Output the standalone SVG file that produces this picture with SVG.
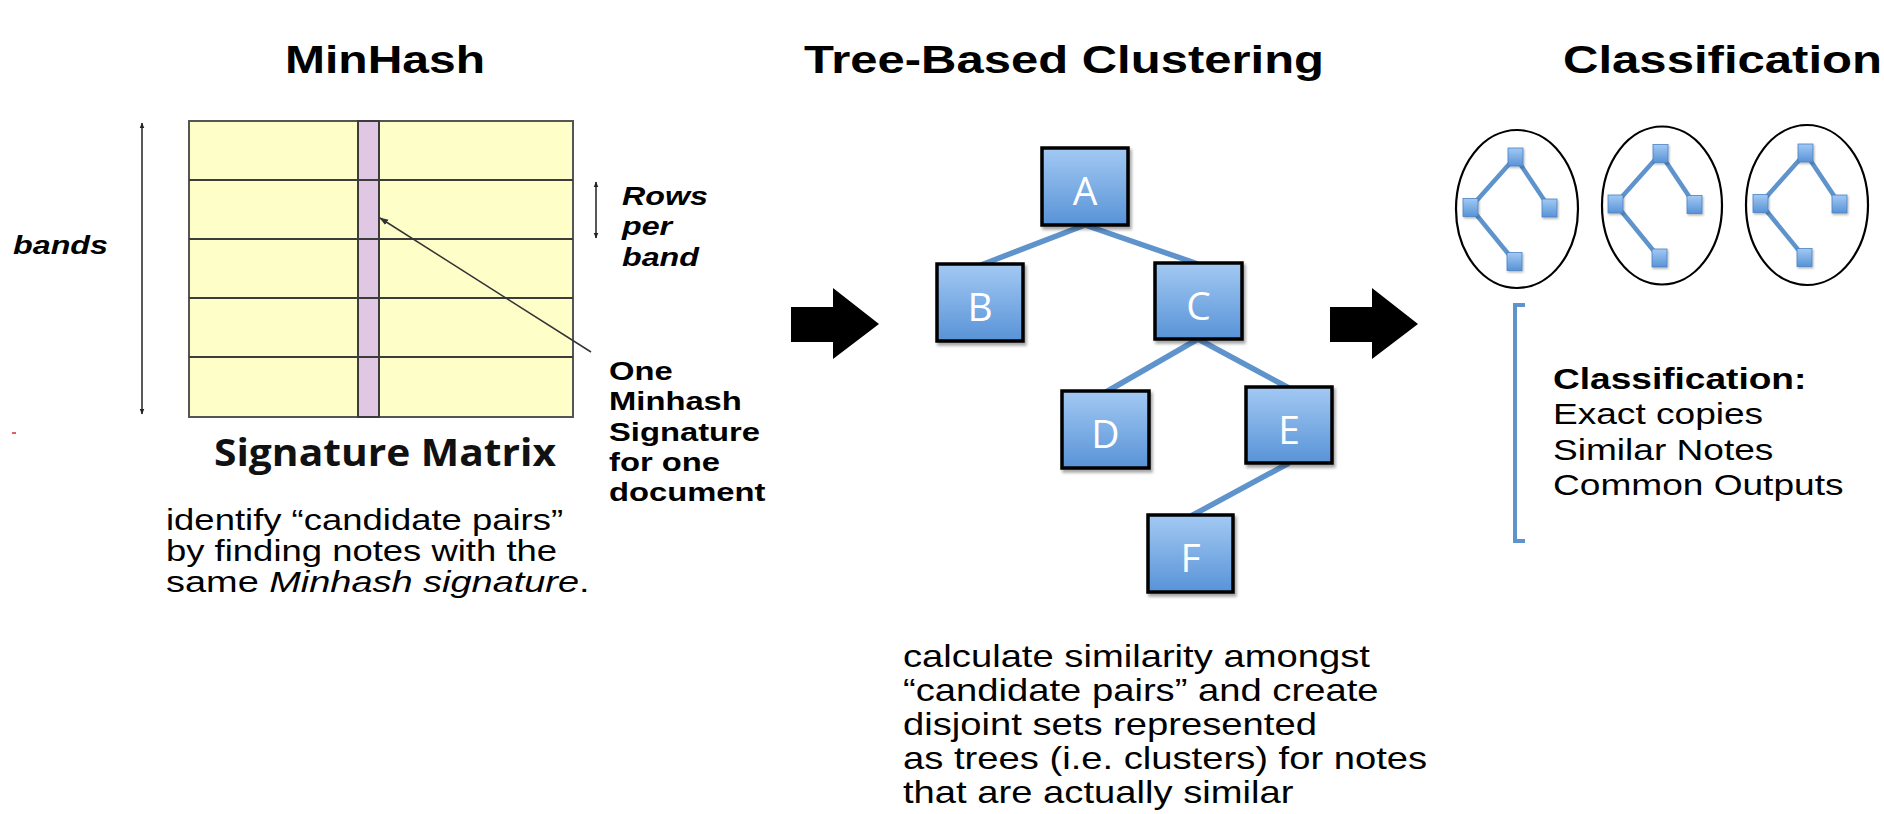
<svg xmlns="http://www.w3.org/2000/svg" width="1884" height="814" viewBox="0 0 1884 814">
  <defs>
    <linearGradient id="boxFill" x1="0" y1="0" x2="0" y2="1">
      <stop offset="0" stop-color="#a3c9f3"/>
      <stop offset="1" stop-color="#5893d7"/>
    </linearGradient>
    <filter id="shadow" x="-20%" y="-20%" width="150%" height="150%">
      <feDropShadow dx="2" dy="3" stdDeviation="1.8" flood-color="#000" flood-opacity="0.35"/>
    </filter>
    <filter id="miniShadow" x="-40%" y="-40%" width="200%" height="200%">
      <feDropShadow dx="1" dy="1.5" stdDeviation="1" flood-color="#000" flood-opacity="0.3"/>
    </filter>
    <marker id="tipSmall" viewBox="0 0 10 10" refX="9" refY="5" markerWidth="6" markerHeight="6" orient="auto-start-reverse" markerUnits="userSpaceOnUse">
      <path d="M0,1 L10,5 L0,9 z" fill="#222"/>
    </marker>
    <marker id="tipPointer" viewBox="0 0 10 10" refX="9" refY="5" markerWidth="9" markerHeight="9" orient="auto" markerUnits="userSpaceOnUse">
      <path d="M0,1.5 L10,5 L0,8.5 z" fill="#333"/>
    </marker>
    <style>
      .title { font-family: "Liberation Sans", Arial, sans-serif; font-weight: bold; font-size: 38.6px; fill: #000; }
      .label { font-family: "Liberation Sans", Arial, sans-serif; font-weight: bold; font-size: 26px; fill: #000; }
      .ital { font-style: italic; }
      .body { font-family: "Liberation Sans", Arial, sans-serif; fill: #000; }
      .caption { font-family: "Open Sans", "Noto Sans", sans-serif; font-weight: bold; font-size: 37px; fill: #111; }
      .node rect { fill: url(#boxFill); stroke: #000; stroke-width: 3.5; filter: url(#shadow); }
      .node text { font-family: "Open Sans", "DejaVu Sans", sans-serif; font-size: 39px; fill: #fff; text-anchor: middle; }
      .edge { stroke: #5f93cc; stroke-width: 5.5; fill: none; }
      .mini line { stroke: #5f93cc; stroke-width: 4.5; }
      .mini rect { fill: url(#boxFill); stroke: #4a83c4; stroke-width: 0.8; filter: url(#miniShadow); }
      .cluster { fill: #fff; stroke: #000; stroke-width: 2.2; }
      .grid { stroke: #3c3c3c; stroke-width: 2; }
      .block { fill: #000; }
    </style>
  </defs>

  <rect width="1884" height="814" fill="#fff"/>

  <!-- column headings -->
  <text class="title" x="285" y="73" textLength="200" lengthAdjust="spacingAndGlyphs">MinHash</text>
  <text class="title" x="804" y="73" textLength="520" lengthAdjust="spacingAndGlyphs">Tree-Based Clustering</text>
  <text class="title" x="1563" y="73" textLength="319" lengthAdjust="spacingAndGlyphs">Classification</text>

  <!-- signature matrix -->
  <g id="signature-matrix">
    <rect x="189" y="121" width="384" height="296" fill="#fefec8" stroke="#555" stroke-width="2"/>
    <rect x="358" y="121" width="21" height="296" fill="#e0c8e4" stroke="#3c3c3c" stroke-width="2"/>
    <line class="grid" x1="189" y1="180" x2="573" y2="180"/>
    <line class="grid" x1="189" y1="239" x2="573" y2="239"/>
    <line class="grid" x1="189" y1="298" x2="573" y2="298"/>
    <line class="grid" x1="189" y1="357" x2="573" y2="357"/>
    <text class="caption" x="214" y="466" textLength="342" lengthAdjust="spacingAndGlyphs">Signature Matrix</text>
  </g>

  <!-- matrix dimension labels -->
  <g id="bands">
    <line x1="142" y1="123" x2="142" y2="414" stroke="#222" stroke-width="1.5" marker-start="url(#tipSmall)" marker-end="url(#tipSmall)"/>
    <text class="label ital" x="13" y="254" textLength="95" lengthAdjust="spacingAndGlyphs">bands</text>
  </g>
  <g id="rows-per-band">
    <line x1="596" y1="182" x2="596" y2="238" stroke="#222" stroke-width="1.5" marker-start="url(#tipSmall)" marker-end="url(#tipSmall)"/>
    <text class="label ital" transform="translate(622,205) scale(1.24,1)">
      <tspan x="0" y="0">Rows</tspan>
      <tspan x="0" y="30.5">per</tspan>
      <tspan x="0" y="61">band</tspan>
    </text>
  </g>
  <g id="one-signature">
    <line x1="591" y1="352" x2="380" y2="218" stroke="#333" stroke-width="1.5" marker-end="url(#tipPointer)"/>
    <text class="label" transform="translate(609,380) scale(1.26,1)">
      <tspan x="0" y="0">One</tspan>
      <tspan x="0" y="30.3">Minhash</tspan>
      <tspan x="0" y="60.6">Signature</tspan>
      <tspan x="0" y="90.9">for one</tspan>
      <tspan x="0" y="121.2">document</tspan>
    </text>
  </g>
  <rect x="12" y="432" width="4" height="2" fill="#e06060"/>

  <g id="minhash-note">
    <text class="body" font-size="29.4" transform="translate(166,530) scale(1.24,1)">
      <tspan x="0" y="0">identify “candidate pairs”</tspan>
      <tspan x="0" y="31">by finding notes with the</tspan>
    </text>
    <text class="body" font-size="29.4" transform="translate(166,592) scale(1.29,1)">same <tspan font-style="italic">Minhash signature</tspan>.</text>
  </g>

  <!-- flow arrows -->
  <polygon id="arrow-1" class="block" points="791,307 833,307 833,288 879,324 833,359 833,342 791,342"/>
  <polygon id="arrow-2" class="block" points="1330,307 1372,307 1372,288 1418,324 1372,359 1372,342 1330,342"/>

  <!-- cluster tree -->
  <g id="tree-edges">
    <line class="edge" x1="1085" y1="225" x2="981" y2="265"/>
    <line class="edge" x1="1085" y1="225" x2="1198" y2="264"/>
    <line class="edge" x1="1198" y1="339" x2="1106" y2="392"/>
    <line class="edge" x1="1198" y1="339" x2="1289" y2="388"/>
    <line class="edge" x1="1289" y1="463" x2="1191" y2="516"/>
  </g>
  <g id="node-A" class="node"><rect x="1042" y="148" width="86" height="77"/><text x="1085" y="205">A</text></g>
  <g id="node-B" class="node"><rect x="937" y="264" width="86" height="77"/><text x="980" y="321">B</text></g>
  <g id="node-C" class="node"><rect x="1155" y="263" width="87" height="76"/><text x="1198.5" y="320">C</text></g>
  <g id="node-D" class="node"><rect x="1062" y="391" width="87" height="77"/><text x="1105.5" y="448">D</text></g>
  <g id="node-E" class="node"><rect x="1246" y="387" width="86" height="76"/><text x="1289" y="444">E</text></g>
  <g id="node-F" class="node"><rect x="1148" y="515" width="85" height="77"/><text x="1190.5" y="572">F</text></g>

  <g id="tree-note">
    <text class="body" font-size="30.8" transform="translate(903,667) scale(1.24,1)">
      <tspan x="0" y="0">calculate similarity amongst</tspan>
      <tspan x="0" y="34">“candidate pairs” and create</tspan>
      <tspan x="0" y="68">disjoint sets represented</tspan>
      <tspan x="0" y="102">as trees (i.e. clusters) for notes</tspan>
      <tspan x="0" y="136">that are actually similar</tspan>
    </text>
  </g>

  <!-- classified clusters -->
  <g id="cluster-1">
    <ellipse class="cluster" cx="1517" cy="209" rx="61" ry="79"/>
    <g class="mini">
      <line x1="1515.5" y1="157" x2="1470.5" y2="207.5"/>
      <line x1="1515.5" y1="157" x2="1549.5" y2="208"/>
      <line x1="1470.5" y1="207.5" x2="1514.5" y2="261.5"/>
      <rect x="1508" y="148" width="15" height="18"/>
      <rect x="1463" y="198.5" width="15" height="18"/>
      <rect x="1542" y="199" width="15" height="18"/>
      <rect x="1507" y="252.5" width="15" height="18"/>
    </g>
  </g>
  <g id="cluster-2" transform="translate(145,-3.5)">
    <ellipse class="cluster" cx="1517" cy="209" rx="60" ry="79"/>
    <g class="mini">
      <line x1="1515.5" y1="157" x2="1470.5" y2="207.5"/>
      <line x1="1515.5" y1="157" x2="1549.5" y2="208"/>
      <line x1="1470.5" y1="207.5" x2="1514.5" y2="261.5"/>
      <rect x="1508" y="148" width="15" height="18"/>
      <rect x="1463" y="198.5" width="15" height="18"/>
      <rect x="1542" y="199" width="15" height="18"/>
      <rect x="1507" y="252.5" width="15" height="18"/>
    </g>
  </g>
  <g id="cluster-3" transform="translate(290,-4)">
    <ellipse class="cluster" cx="1517" cy="209" rx="61" ry="80"/>
    <g class="mini">
      <line x1="1515.5" y1="157" x2="1470.5" y2="207.5"/>
      <line x1="1515.5" y1="157" x2="1549.5" y2="208"/>
      <line x1="1470.5" y1="207.5" x2="1514.5" y2="261.5"/>
      <rect x="1508" y="148" width="15" height="18"/>
      <rect x="1463" y="198.5" width="15" height="18"/>
      <rect x="1542" y="199" width="15" height="18"/>
      <rect x="1507" y="252.5" width="15" height="18"/>
    </g>
  </g>

  <g id="classification-note">
    <path d="M1525,305 L1515,305 L1515,541 L1525,541" fill="none" stroke="#5f93cc" stroke-width="4"/>
    <text class="body" font-size="30.4" transform="translate(1553,389) scale(1.22,1)">
      <tspan x="0" y="0" font-weight="bold">Classification:</tspan>
      <tspan x="0" y="35.5">Exact copies</tspan>
      <tspan x="0" y="71">Similar Notes</tspan>
      <tspan x="0" y="106.5">Common Outputs</tspan>
    </text>
  </g>
</svg>
